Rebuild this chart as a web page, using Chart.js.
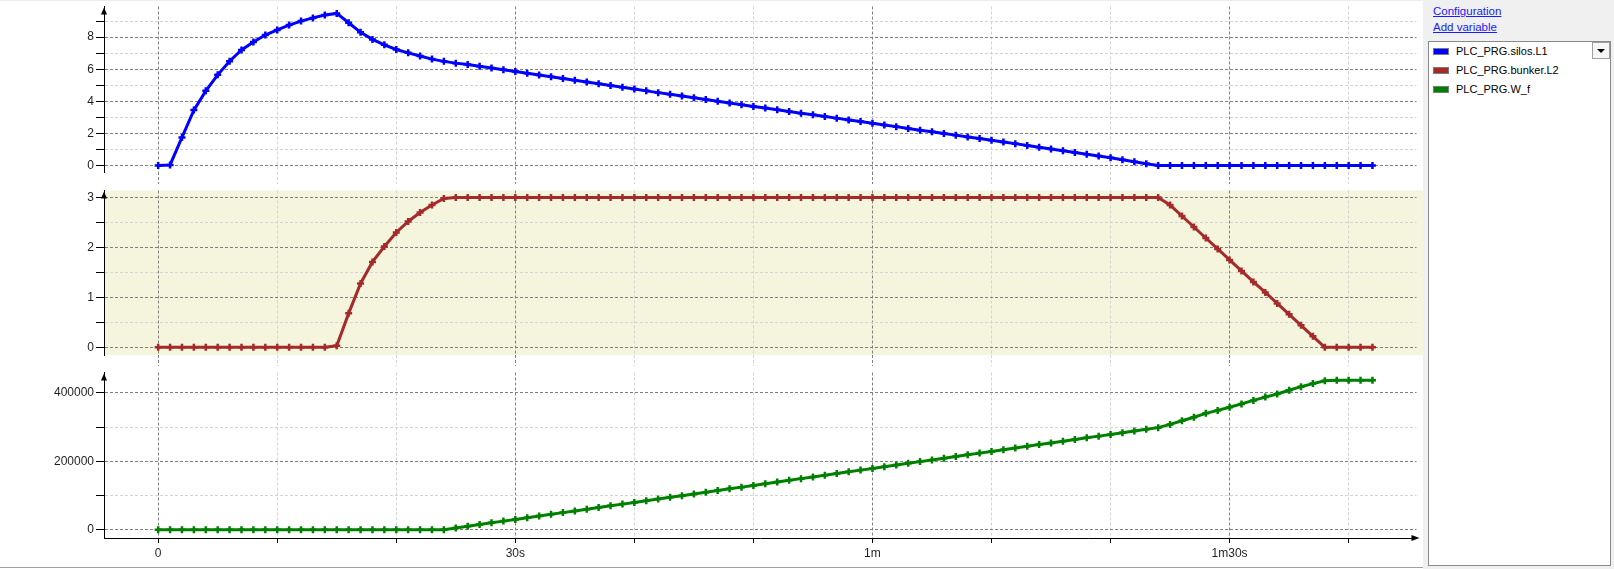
<!DOCTYPE html>
<html>
<head>
<meta charset="utf-8">
<script src="https://cdn.jsdelivr.net/npm/chart.js@4/dist/chart.umd.min.js"></script>
<style>
  html, body { margin: 0; padding: 0; background: #fff; }
  #page { position: relative; width: 1614px; height: 569px; overflow: hidden; background: #fff; font-family: 'Liberation Sans', Arial, sans-serif; }
  .panel { position: absolute; left: 0; }
  #topline { position: absolute; left: 0; top: 0; width: 1423px; height: 1px; background: #ececec; }
  #botline { position: absolute; left: 0; top: 567px; width: 1423px; height: 1px; background: #a0a0a0; }
  #side { position: absolute; left: 1423px; top: 0; width: 191px; height: 569px; background: #f0f0f0; }
  .lnk { position: absolute; left: 10px; font-size: 11.5px; line-height: 14px; color: #1a1aff; text-decoration: underline; cursor: pointer; }
  #legbox { position: absolute; left: 5px; top: 41px; width: 181px; height: 523px; background: #fff; border: 1px solid #8a8a8a; }
  .item { position: absolute; left: 4px; height: 19px; line-height: 19px; font-size: 11px; color: #000; white-space: nowrap; }
  .sw { display: inline-block; width: 14px; height: 5px; border: 1px solid #7a7a7a; margin-right: 7px; vertical-align: middle; position: relative; top: -1px; }
  #drop { position: absolute; left: 163px; top: 0; width: 16px; height: 15px; border: 1px solid #a0a0a0; background: #f7f7f7; }
  #drop:after { content: ''; position: absolute; left: 4px; top: 6px; border-left: 4px solid transparent; border-right: 4px solid transparent; border-top: 4px solid #000; }
</style>
</head>
<body>
<div id="page">
  <div class="panel" style="top:0"><canvas id="cSilos" width="1423" height="184"></canvas></div>
  <div class="panel" style="top:184px"><canvas id="cBunker" width="1423" height="182"></canvas></div>
  <div class="panel" style="top:366px"><canvas id="cWf" width="1423" height="203"></canvas></div>
  <div id="topline"></div>
  <div id="botline"></div>
  <div id="side">
    <a class="lnk" style="top:4px">Configuration</a>
    <a class="lnk" style="top:20px">Add variable</a>
    <div id="legbox"><div id="drop"></div></div>
  </div>
</div>
<script>
// ---- trace data (seconds since start) ----
const TIME = [
  0,1,2,3,4,5,6,7,8,9,10,11,12,13,14,15,16,17,18,19,20,
  21,22,23,24,25,26,27,28,29,30,31,32,33,34,35,36,37,38,39,40,
  41,42,43,44,45,46,47,48,49,50,51,52,53,54,55,56,57,58,59,60,
  61,62,63,64,65,66,67,68,69,70,71,72,73,74,75,76,77,78,79,80,
  81,82,83,84,85,86,87,88,89,90,91,92,93,94,95,96,97,98,99,100,
  101,102
];

const SILOS_L1 = [
  0,0.03,1.75,3.45,4.65,5.65,6.5,7.2,7.7,8.13,8.45,8.75,9.0,9.2,9.38,9.48,8.9,8.3,7.86,7.52,7.23,
  7.02,6.82,6.63,6.49,6.38,6.29,6.19,6.08,5.97,5.86,5.75,5.64,5.53,5.42,5.31,5.2,5.09,4.98,4.87,4.76,
  4.65,4.54,4.44,4.33,4.22,4.11,4.0,3.9,3.79,3.68,3.58,3.47,3.37,3.26,3.16,3.05,2.95,2.84,2.74,2.63,
  2.52,2.42,2.31,2.2,2.1,1.99,1.89,1.78,1.68,1.57,1.46,1.36,1.25,1.14,1.03,0.92,0.81,0.7,0.59,0.48,
  0.36,0.23,0.1,0,0,0,0,0,0,0,0,0,0,0,0,0,0,0,0,0,
  0,0
];

const BUNKER_L2 = [
  0,0,0,0,0,0,0,0,0,0,0,0,0,0,0,0.03,0.68,1.28,1.71,2.02,2.3,
  2.52,2.7,2.85,2.98,3,3,3,3,3,3,3,3,3,3,3,3,3,3,3,3,
  3,3,3,3,3,3,3,3,3,3,3,3,3,3,3,3,3,3,3,3,
  3,3,3,3,3,3,3,3,3,3,3,3,3,3,3,3,3,3,3,3,
  3,3,3,3,2.85,2.63,2.41,2.19,1.97,1.75,1.53,1.31,1.1,0.88,0.66,0.44,0.22,0,0,0,
  0,0
];

const W_F = [
  0,0,0,0,0,0,0,0,0,0,0,0,0,0,0,0,0,0,0,0,0,
  0,0,0,0,5000,9950,14900,19900,24900,29900,34800,39800,44800,49800,54700,59700,64700,69700,74700,79600,
  84600,89600,94600,99500,104500,109500,114500,119400,124400,129400,134400,139400,144300,149300,154300,159300,164200,169200,174200,179200,
  184100,189100,194100,199100,204100,209000,214000,219000,224000,228900,233900,238900,243900,248900,253800,258800,263800,268800,273700,278700,
  283700,288700,293600,298600,308000,318700,329000,340500,349000,358200,368000,378300,388000,397000,408000,418500,427500,436000,437000,437000,
  437000,437000
];

const SERIES_NAMES = ['PLC_PRG.silos.L1', 'PLC_PRG.bunker.L2', 'PLC_PRG.W_f'];
const SERIES_COLORS = ['#0000ff', '#a52a2a', '#008000'];

// x grid every 10 s, labels every 30 s
const TIME_GRID = [0, 10, 20, 30, 40, 50, 60, 70, 80, 90, 100];
const TIME_TICKS = [0, 30, 60, 90];
const TIME_LABELS = ['0', '30s', '1m', '1m30s'];

// y grid values per panel (labelled ones get the darker line)
const SILOS_GRID = [0, 1, 2, 3, 4, 5, 6, 7, 8, 9];
const SILOS_TICKS = [0, 2, 4, 6, 8];
const BUNKER_GRID = [0, 0.5, 1, 1.5, 2, 2.5, 3];
const BUNKER_TICKS = [0, 1, 2, 3];
const WF_GRID = [0, 100000, 200000, 300000, 400000];
const WF_TICKS = [0, 200000, 400000];

const GRID_MAJOR = '#808080';
const GRID_MINOR = '#d4d4d4';
const DASH = [3, 2];

Chart.defaults.font.family = "'Liberation Sans', Arial, sans-serif";
Chart.defaults.font.size = 12;
Chart.defaults.color = '#1f1f1f';

const axisArrows = {
  id: 'axisArrows',
  afterDraw(chart, args, opts) {
    const { ctx, chartArea: a } = chart;
    ctx.save();
    ctx.fillStyle = '#000';
    ctx.beginPath();
    ctx.moveTo(a.left, a.top + 1);
    ctx.lineTo(a.left - 3, a.top + 8);
    ctx.lineTo(a.left + 3, a.top + 8);
    ctx.closePath();
    ctx.fill();
    if (opts.xArrow) {
      ctx.beginPath();
      ctx.moveTo(a.right + 3, a.bottom);
      ctx.lineTo(a.right - 5, a.bottom - 3);
      ctx.lineTo(a.right - 5, a.bottom + 3);
      ctx.closePath();
      ctx.fill();
    }
    ctx.restore();
  }
};

const panelFill = {
  id: 'panelFill',
  beforeDraw(chart, args, opts) {
    if (!opts.color) return;
    const { ctx, chartArea: a } = chart;
    ctx.save();
    ctx.fillStyle = opts.color;
    ctx.fillRect(a.left, a.top, chart.width - a.left, a.bottom - a.top);
    ctx.restore();
  }
};

function xGridColor(c) {
  return c.tick && TIME_TICKS.includes(c.tick.value) ? GRID_MAJOR : GRID_MINOR;
}

function timeScale(isBottom, gap) {
  return {
    type: 'linear',
    min: -4.55,
    max: 105.7,
    afterBuildTicks: s => { s.ticks = TIME_GRID.map(v => ({ value: v })); },
    afterFit: s => {
      s.height = isBottom ? 31 : gap;
      s.paddingLeft = 0; s.paddingRight = 0;
    },
    ticks: {
      display: isBottom,
      autoSkip: false,
      maxRotation: 0,
      padding: 3,
      callback: v => {
        const i = TIME_TICKS.indexOf(v);
        return i >= 0 ? TIME_LABELS[i] : '';
      }
    },
    grid: {
      color: xGridColor,
      lineWidth: 1,
      drawTicks: true,
      tickLength: isBottom ? 5 : gap,
      tickColor: isBottom ? '#000' : xGridColor,
      tickBorderDash: isBottom ? [] : DASH
    },
    border: { display: isBottom, color: '#000', width: 1, dash: DASH }
  };
}

function valueScale(min, max, gridValues, labelled) {
  return {
    type: 'linear',
    min: min,
    max: max,
    afterBuildTicks: s => { s.ticks = gridValues.map(v => ({ value: v })); },
    afterFit: s => {
      s.width = 104;
      s.paddingTop = 0; s.paddingBottom = 0;
    },
    ticks: {
      autoSkip: false,
      padding: 2,
      callback: v => labelled.includes(v) ? String(v) : ''
    },
    grid: {
      color: c => c.tick && labelled.includes(c.tick.value) ? GRID_MAJOR : GRID_MINOR,
      lineWidth: 1,
      tickLength: 8,
      tickColor: '#000',
      tickBorderDash: []
    },
    border: { display: true, color: '#000', width: 1, dash: DASH }
  };
}

function renderTrace(canvasId, values, color, yScale, opts) {
  const ctx = document.getElementById(canvasId);
  new Chart(ctx, {
    type: 'line',
    data: {
      datasets: [{
        label: opts.name,
        data: TIME.map((t, i) => ({ x: t, y: values[i] })),
        borderColor: color,
        backgroundColor: color,
        borderWidth: 3,
        pointStyle: 'cross',
        pointRadius: 3.5,
        pointBorderWidth: 2.5,
        pointBorderColor: color,
        tension: 0,
        fill: false
      }]
    },
    options: {
      responsive: false,
      animation: false,
      events: [],
      layout: { padding: { top: opts.padTop, right: 3, left: 0, bottom: 0 } },
      scales: {
        x: timeScale(opts.bottom, opts.gap),
        y: yScale
      },
      plugins: {
        legend: { display: false },
        tooltip: { enabled: false },
        axisArrows: { xArrow: opts.bottom },
        panelFill: { color: opts.fill }
      }
    },
    plugins: [panelFill, axisArrows]
  });
}

renderTrace('cSilos', SILOS_L1, SERIES_COLORS[0],
  valueScale(-0.409, 9.911, SILOS_GRID, SILOS_TICKS),
  { name: SERIES_NAMES[0], padTop: 3, gap: 12, bottom: false, fill: null });

renderTrace('cBunker', BUNKER_L2, SERIES_COLORS[1],
  valueScale(-0.154, 3.141, BUNKER_GRID, BUNKER_TICKS),
  { name: SERIES_NAMES[1], padTop: 0, gap: 11, bottom: false, fill: '#f5f4dc' });

renderTrace('cWf', W_F, SERIES_COLORS[2],
  valueScale(-24507, 460000, WF_GRID, WF_TICKS),
  { name: SERIES_NAMES[2], padTop: 0, gap: 0, bottom: true, fill: null });

// legend list on the right
const legbox = document.getElementById('legbox');
SERIES_NAMES.forEach((name, i) => {
  const row = document.createElement('div');
  row.className = 'item';
  row.style.top = (i * 19) + 'px';
  const sw = document.createElement('span');
  sw.className = 'sw';
  sw.style.background = SERIES_COLORS[i];
  row.appendChild(sw);
  row.appendChild(document.createTextNode(name));
  legbox.appendChild(row);
});
</script>
</body>
</html>
